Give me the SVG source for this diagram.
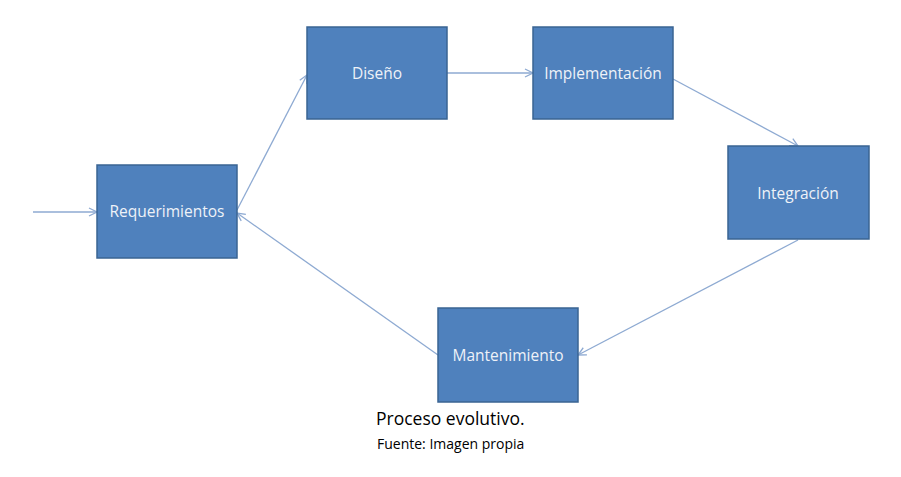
<svg xmlns="http://www.w3.org/2000/svg" width="901" height="477" viewBox="0 0 901 477">
<defs>
<marker id="ah" markerWidth="12" markerHeight="12" refX="10" refY="5" orient="auto" markerUnits="userSpaceOnUse" viewBox="0 0 12 10">
<polyline points="2,1 10,5 2,9" fill="none" stroke="#8eaad2" stroke-width="1.3"/>
</marker>
<style>
.box{fill:#4f81bd;stroke:#3a6493;stroke-width:1.5}
.lbl{font-family:"Open Sans","Liberation Sans",sans-serif;font-size:15.5px;fill:#eef2f8;text-anchor:middle}
.con{stroke:#8eaad2;stroke-width:1.3;fill:none;marker-end:url(#ah)}
.cap{font-family:"Open Sans","Liberation Sans",sans-serif;fill:#000}
</style>
</defs>
<rect width="901" height="477" fill="#fff"/>
<g id="connectors">
<line class="con" x1="33" y1="212" x2="97" y2="212"/>
<line class="con" x1="237" y1="210" x2="307" y2="75"/>
<line class="con" x1="447" y1="73" x2="533" y2="73"/>
<line class="con" x1="673" y1="79" x2="798" y2="146"/>
<line class="con" x1="798" y1="240" x2="578" y2="355"/>
<line class="con" x1="438" y1="355" x2="237" y2="213"/>
</g>
<g id="requerimientos"><rect class="box" x="97" y="165" width="140" height="93"/><text class="lbl" x="167" y="217">Requerimientos</text></g>
<g id="diseno"><rect class="box" x="307" y="27" width="140" height="92"/><text class="lbl" x="377" y="79">Diseño</text></g>
<g id="implementacion"><rect class="box" x="533" y="27" width="140" height="92"/><text class="lbl" x="603" y="79">Implementación</text></g>
<g id="integracion"><rect class="box" x="728" y="146" width="141" height="93"/><text class="lbl" x="798" y="199">Integración</text></g>
<g id="mantenimiento"><rect class="box" x="438" y="308" width="140" height="94"/><text class="lbl" x="508" y="361">Mantenimiento</text></g>
<text class="cap" x="376" y="425" font-size="17.5">Proceso evolutivo.</text>
<text class="cap" x="377" y="449" font-size="14">Fuente: Imagen propia</text>
</svg>
